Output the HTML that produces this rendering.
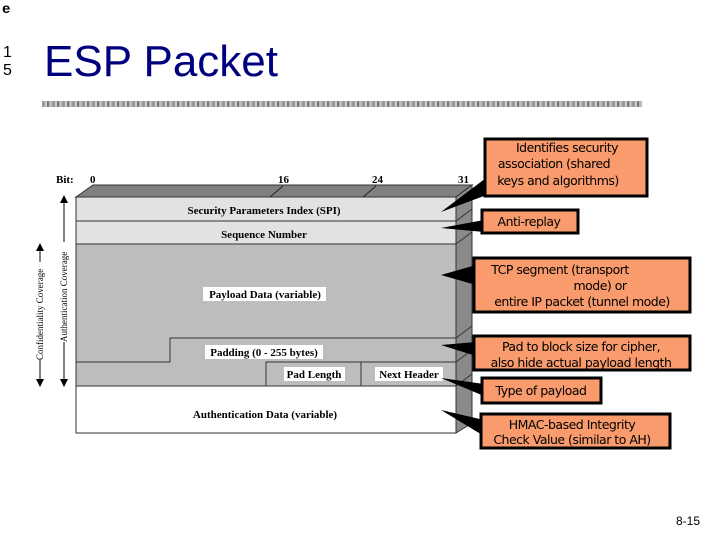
<!DOCTYPE html>
<html><head><meta charset="utf-8"><style>
body{margin:0;background:#fff;width:720px;height:540px;overflow:hidden;position:relative;font-family:"Liberation Sans",sans-serif}
.t{position:absolute}
</style></head><body>
<div class="t" style="left:2px;top:2px;font:bold 14px 'Liberation Mono',monospace">e</div>
<div class="t" style="left:3px;top:44px;font-size:16px;line-height:18px">1<br>5</div>
<div class="t" style="left:44px;top:37px;font-size:44px;color:#00007f">ESP Packet</div>
<div class="t" style="left:42px;top:101px;width:600px;height:6px;background:repeating-linear-gradient(90deg,#999 0 3px,#ccc 3px 5px,#777 5px 7px,#bbb 7px 10px)"></div>
<div class="t" style="left:676px;top:514px;font-size:12px">8-15</div>
<svg class="t" style="left:0;top:0" width="720" height="540" font-family="Liberation Serif,serif" font-weight="bold" font-size="11">
<text x="56" y="183">Bit:</text><text x="90" y="183">0</text><text x="278" y="183">16</text><text x="372" y="183">24</text><text x="458" y="183">31</text>
<polygon points="76,197 93,185 472,185 456,197" fill="#808080" stroke="#333"/>
<polygon points="456,197 472,185 472,423 456,433" fill="#8a8a8a" stroke="#333"/>
<line x1="270" y1="197" x2="283" y2="186" stroke="#222"/><line x1="363" y1="197" x2="376" y2="186" stroke="#222"/>
<g stroke="#333"><line x1="456" y1="221" x2="472" y2="209"/><line x1="456" y1="244" x2="472" y2="232"/><line x1="456" y1="338" x2="472" y2="326"/><line x1="456" y1="362" x2="472" y2="350"/><line x1="456" y1="386" x2="472" y2="374"/></g>
<rect x="76" y="197" width="380" height="24" fill="#e2e2e2" stroke="#333"/>
<rect x="76" y="221" width="380" height="23" fill="#e2e2e2" stroke="#333"/>
<rect x="76" y="244" width="380" height="142" fill="#bdbdbd" stroke="#333"/>
<polyline points="76,362 170,362 170,338 456,338" fill="none" stroke="#333"/>
<polyline points="266,386 266,362 456,362" fill="none" stroke="#333"/>
<line x1="361" y1="362" x2="361" y2="386" stroke="#333"/>
<rect x="76" y="386" width="380" height="47" fill="#fff" stroke="#333"/>
<text x="264" y="214" text-anchor="middle">Security Parameters Index (SPI)</text>
<text x="264" y="238" text-anchor="middle">Sequence Number</text>
<rect x="203" y="287" width="123" height="14" fill="#fff"/><text x="265" y="298" text-anchor="middle">Payload Data (variable)</text>
<rect x="205" y="345" width="118" height="14" fill="#fff"/><text x="264" y="356" text-anchor="middle">Padding (0 - 255 bytes)</text>
<rect x="284" y="367" width="61" height="14" fill="#fff"/><text x="314" y="378" text-anchor="middle">Pad Length</text>
<rect x="375" y="367" width="68" height="14" fill="#fff"/><text x="409" y="378" text-anchor="middle">Next Header</text>
<text x="265" y="418" text-anchor="middle">Authentication Data (variable)</text>
<g font-weight="normal" font-size="9">
<line x1="64" y1="200" x2="64" y2="383" stroke="#000"/><polygon points="64,195 60,203 68,203"/><polygon points="64,387 60,379 68,379"/>
<rect x="59" y="242" width="10" height="100" fill="#fff"/><text transform="translate(67,342) rotate(-90)">Authentication Coverage</text>
<line x1="40" y1="248" x2="40" y2="383" stroke="#000"/><polygon points="40,243 36,251 44,251"/><polygon points="40,387 36,379 44,379"/>
<rect x="35" y="262" width="10" height="98" fill="#fff"/><text transform="translate(43,360) rotate(-90)">Confidentiality Coverage</text>
</g>
<g fill="#000">
<polygon points="441,212 490,175 500,190"/>
<polygon points="441,228 484,220 484,232"/>
<polygon points="441,275 476,265 476,285"/>
<polygon points="441,345 476,342 476,356"/>
<polygon points="441,378 484,384 484,396"/>
<polygon points="441,410 484,420 484,436"/>
</g>
<g fill="#f99b6c" stroke="#000" stroke-width="3">
<rect x="485" y="139" width="162" height="57"/>
<rect x="482" y="210" width="96" height="23"/>
<rect x="474" y="258" width="216" height="54"/>
<rect x="474" y="336" width="216" height="34"/>
<rect x="482" y="378" width="119" height="25"/>
<rect x="481" y="414" width="189" height="34"/>
</g>
<g font-family="DejaVu Sans,sans-serif" font-weight="normal" font-size="12.5" text-anchor="middle" letter-spacing="-0.5">
<text x="567" y="152">Identifies security</text><text x="554" y="168">association (shared</text><text x="558" y="185">keys and algorithms)</text>
<text x="529" y="226">Anti-replay</text>
<text x="560" y="274">TCP segment (transport</text><text x="600" y="290">mode) or</text><text x="582" y="306">entire IP packet (tunnel mode)</text>
<text x="581" y="351">Pad to block size for cipher,</text><text x="581" y="367">also hide actual payload length</text>
<text x="541" y="395">Type of payload</text>
<text x="572" y="429">HMAC-based Integrity</text><text x="572" y="444">Check Value (similar to AH)</text>
</g>
</svg>
</body></html>
